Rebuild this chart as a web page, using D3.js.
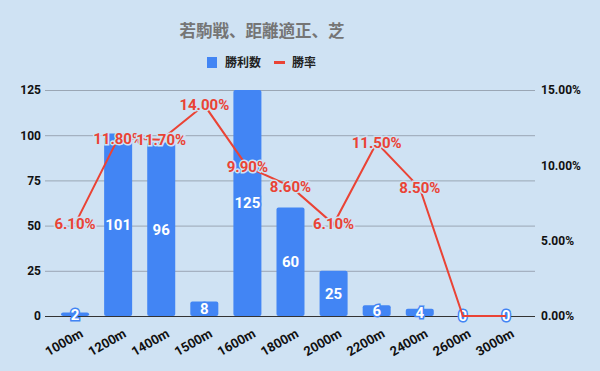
<!DOCTYPE html>
<html>
<head>
<meta charset="utf-8">
<script src="https://cdn.jsdelivr.net/npm/d3@7"></script>
<style>
  body { margin: 0; background: #cfe2f3; }
  text { font-family: Roboto, "Noto Sans CJK JP", sans-serif; }
</style>
</head>
<body>
<div id="chart"></div>
<script>
// data
const categories = ['1000m', '1200m', '1400m', '1500m', '1600m', '1800m', '2000m', '2200m', '2400m', '2600m', '3000m'];
const wins = [2, 101, 96, 8, 125, 60, 25, 6, 4, 0, 0];
const winRate = [6.1, 11.8, 11.7, 14.0, 9.9, 8.6, 6.1, 11.5, 8.5, 0, 0];
const leftTicks = [0, 25, 50, 75, 100, 125];
const rightTicks = [0, 5, 10, 15];

const w = 600;
const h = 371;
const bg = '#cfe2f3';
const barColor = '#4285f4';
const lineColor = '#ea4335';

const svg = d3.select('#chart')
  .append('svg')
  .attr('width', w)
  .attr('height', h);

svg.append('rect').attr('width', w).attr('height', h).attr('fill', bg);

const xScale = d3.scaleBand()
  .domain(categories)
  .range([53.5, 527.5])
  .paddingInner(0.35)
  .paddingOuter(0.175);

const yLeft = d3.scaleLinear().domain([0, 125]).range([316, 90]);
const yRight = d3.scaleLinear().domain([0, 15]).range([316, 90]);

// title
svg.append('text')
  .attr('x', 262).attr('y', 37)
  .attr('text-anchor', 'middle')
  .attr('font-size', 16.5).attr('font-weight', 'bold')
  .attr('fill', '#757575')
  .text('若駒戦、距離適正、芝');

// legend
const lg = svg.append('g');
lg.append('rect').attr('x', 207).attr('y', 57).attr('width', 10).attr('height', 11).attr('fill', barColor);
lg.append('text').attr('x', 225).attr('y', 67).attr('font-size', 12).attr('font-weight', 'bold').attr('fill', '#222').text('勝利数');
lg.append('rect').attr('x', 274).attr('y', 61).attr('width', 11).attr('height', 3).attr('fill', lineColor);
lg.append('text').attr('x', 292).attr('y', 67).attr('font-size', 12).attr('font-weight', 'bold').attr('fill', '#222').text('勝率');

// gridlines
svg.append('g')
  .attr('transform', 'translate(45,0)')
  .call(d3.axisLeft(yLeft).tickValues(leftTicks).tickSize(-490).tickFormat(''))
  .call(g => g.select('.domain').remove())
  .call(g => g.selectAll('.tick line').attr('stroke', d => d === 0 ? '#333' : '#9aa6b4').attr('stroke-width', 1));

// left axis labels
svg.append('g')
  .attr('transform', 'translate(41,0)')
  .call(d3.axisLeft(yLeft).tickValues(leftTicks).tickSize(0).tickPadding(0))
  .call(g => g.select('.domain').remove())
  .call(g => g.selectAll('text').attr('font-size', 12).attr('font-weight', 'bold').attr('fill', '#111').attr('font-family', 'Roboto'));

// right axis labels
svg.append('g')
  .attr('transform', 'translate(541,0)')
  .call(d3.axisRight(yRight).tickValues(rightTicks).tickSize(0).tickPadding(0).tickFormat(d => d.toFixed(2) + '%'))
  .call(g => g.select('.domain').remove())
  .call(g => g.selectAll('text').attr('font-size', 12).attr('font-weight', 'bold').attr('fill', '#111').attr('font-family', 'Roboto'));

// x labels
svg.append('g')
  .selectAll('text')
  .data(categories)
  .enter()
  .append('text')
  .attr('transform', d => 'translate(' + (xScale(d) + xScale.bandwidth() / 2 + 9) + ',336) rotate(-30)')
  .attr('text-anchor', 'end')
  .attr('font-size', 13).attr('font-weight', 'bold').attr('fill', '#111')
  .text(d => d);

// bars
svg.append('g')
  .selectAll('rect')
  .data(wins)
  .enter()
  .append('rect')
  .attr('x', (d, i) => xScale(categories[i]))
  .attr('y', d => yLeft(d))
  .attr('width', xScale.bandwidth())
  .attr('height', d => yLeft(0) - yLeft(d))
  .attr('rx', 2)
  .attr('fill', barColor);

// bar labels
svg.append('g')
  .selectAll('text')
  .data(wins)
  .enter()
  .append('text')
  .attr('x', (d, i) => xScale(categories[i]) + xScale.bandwidth() / 2)
  .attr('y', d => (yLeft(d) + yLeft(0)) / 2)
  .attr('dy', '0.36em')
  .attr('text-anchor', 'middle')
  .attr('font-size', 15).attr('font-weight', 'bold')
  .attr('fill', '#fff')
  .attr('stroke', barColor).attr('stroke-width', 3).attr('paint-order', 'stroke')
  .text(d => d);

// line
const line = d3.line()
  .x((d, i) => xScale(categories[i]) + xScale.bandwidth() / 2)
  .y(d => yRight(d));

svg.append('path')
  .datum(winRate)
  .attr('d', line)
  .attr('fill', 'none')
  .attr('stroke', lineColor)
  .attr('stroke-width', 2);

// line labels (skip zero values)
svg.append('g')
  .selectAll('text')
  .data(winRate.map((v, i) => ({ v, i })).filter(d => d.v > 0))
  .enter()
  .append('text')
  .attr('x', d => xScale(categories[d.i]) + xScale.bandwidth() / 2)
  .attr('y', d => yRight(d.v))
  .attr('dy', '0.36em')
  .attr('text-anchor', 'middle')
  .attr('font-size', 15).attr('font-weight', 'bold')
  .attr('fill', lineColor)
  .attr('stroke', bg).attr('stroke-width', 3).attr('paint-order', 'stroke')
  .text(d => d.v.toFixed(2) + '%');
</script>
</body>
</html>
